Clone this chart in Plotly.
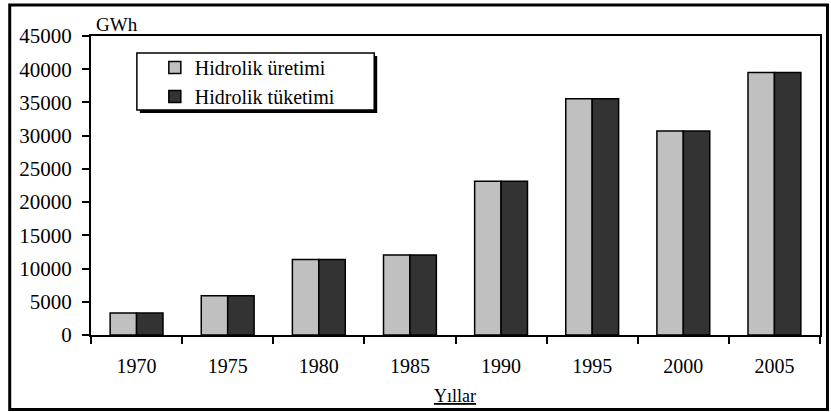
import plotly.graph_objects as go

years = ["1970", "1975", "1980", "1985", "1990", "1995", "2000", "2005"]
uretim = [3300, 5900, 11350, 12050, 23150, 35550, 30700, 39500]
tuketim = [3300, 5900, 11350, 12050, 23150, 35550, 30700, 39500]
y_ticks = [0, 5000, 10000, 15000, 20000, 25000, 30000, 35000, 40000, 45000]

FONT = "Liberation Serif, Times New Roman, serif"

fig = go.Figure()
fig.add_trace(go.Bar(x=years, y=uretim, name="Hidrolik üretimi",
                     marker=dict(color="#c0c0c0", line=dict(color="black", width=1.5))))
fig.add_trace(go.Bar(x=years, y=tuketim, name="Hidrolik tüketimi",
                     marker=dict(color="#333333", line=dict(color="black", width=1.5))))

L, R, T, B = 91, 9, 36, 77
W, H = 831, 412
pw, ph = W - L - R, H - T - B

def px(x):
    return (x - L) / pw

def py(y):
    return (H - B - y) / ph

fig.update_layout(
    width=W, height=H,
    margin=dict(l=L, r=R, t=T, b=B, pad=0),
    paper_bgcolor="white", plot_bgcolor="white",
    barmode="group", bargap=0.42, bargroupgap=0,
    font=dict(family=FONT, size=20, color="black"),
    showlegend=True,
    legend=dict(x=px(155), y=py(48), xanchor="left", yanchor="top",
                bgcolor="rgba(0,0,0,0)", borderwidth=0,
                font=dict(family=FONT, size=20, color="black"),
                tracegroupgap=0),
    shapes=[
        dict(type="rect", xref="paper", yref="paper",
             x0=px(9.5), x1=px(829.5), y0=py(409.5), y1=py(5),
             line=dict(color="black", width=3), fillcolor="rgba(0,0,0,0)", layer="below"),
        dict(type="rect", xref="paper", yref="paper",
             x0=px(140), x1=px(378), y0=py(113), y1=py(56),
             line=dict(color="black", width=0), fillcolor="black", layer="above"),
        dict(type="rect", xref="paper", yref="paper",
             x0=px(137), x1=px(375), y0=py(110), y1=py(53),
             line=dict(color="black", width=1.5), fillcolor="white", layer="above"),
    ],
    annotations=[
        dict(text="GWh", xref="paper", yref="paper", x=px(117), y=py(24),
             xanchor="center", yanchor="middle", showarrow=False,
             font=dict(family=FONT, size=19, color="black")),
        dict(text="<u>Yıllar</u>", xref="paper", yref="paper", x=px(456), y=py(396),
             xanchor="center", yanchor="middle", showarrow=False,
             font=dict(family=FONT, size=18, color="black")),
    ],
)

fig.update_xaxes(type="category", showline=True, linecolor="black", linewidth=2,
                 mirror=True, ticks="outside", tickson="boundaries", ticklen=7,
                 tickwidth=2, tickcolor="black", ticklabelstandoff=12,
                 showgrid=False, zeroline=False,
                 tickfont=dict(family=FONT, size=20, color="black"))
fig.update_yaxes(range=[0, 45000], tickvals=y_ticks, ticktext=[str(v) for v in y_ticks],
                 showline=True, linecolor="black", linewidth=2, mirror=True,
                 ticks="outside", ticklen=7, tickwidth=2, tickcolor="black",
                 showgrid=False, zeroline=False, ticklabelstandoff=6,
                 tickfont=dict(family=FONT, size=21, color="black"))

fig.write_html("out.html", config={"displayModeBar": False},
               post_script="document.body.style.margin='0px';")
